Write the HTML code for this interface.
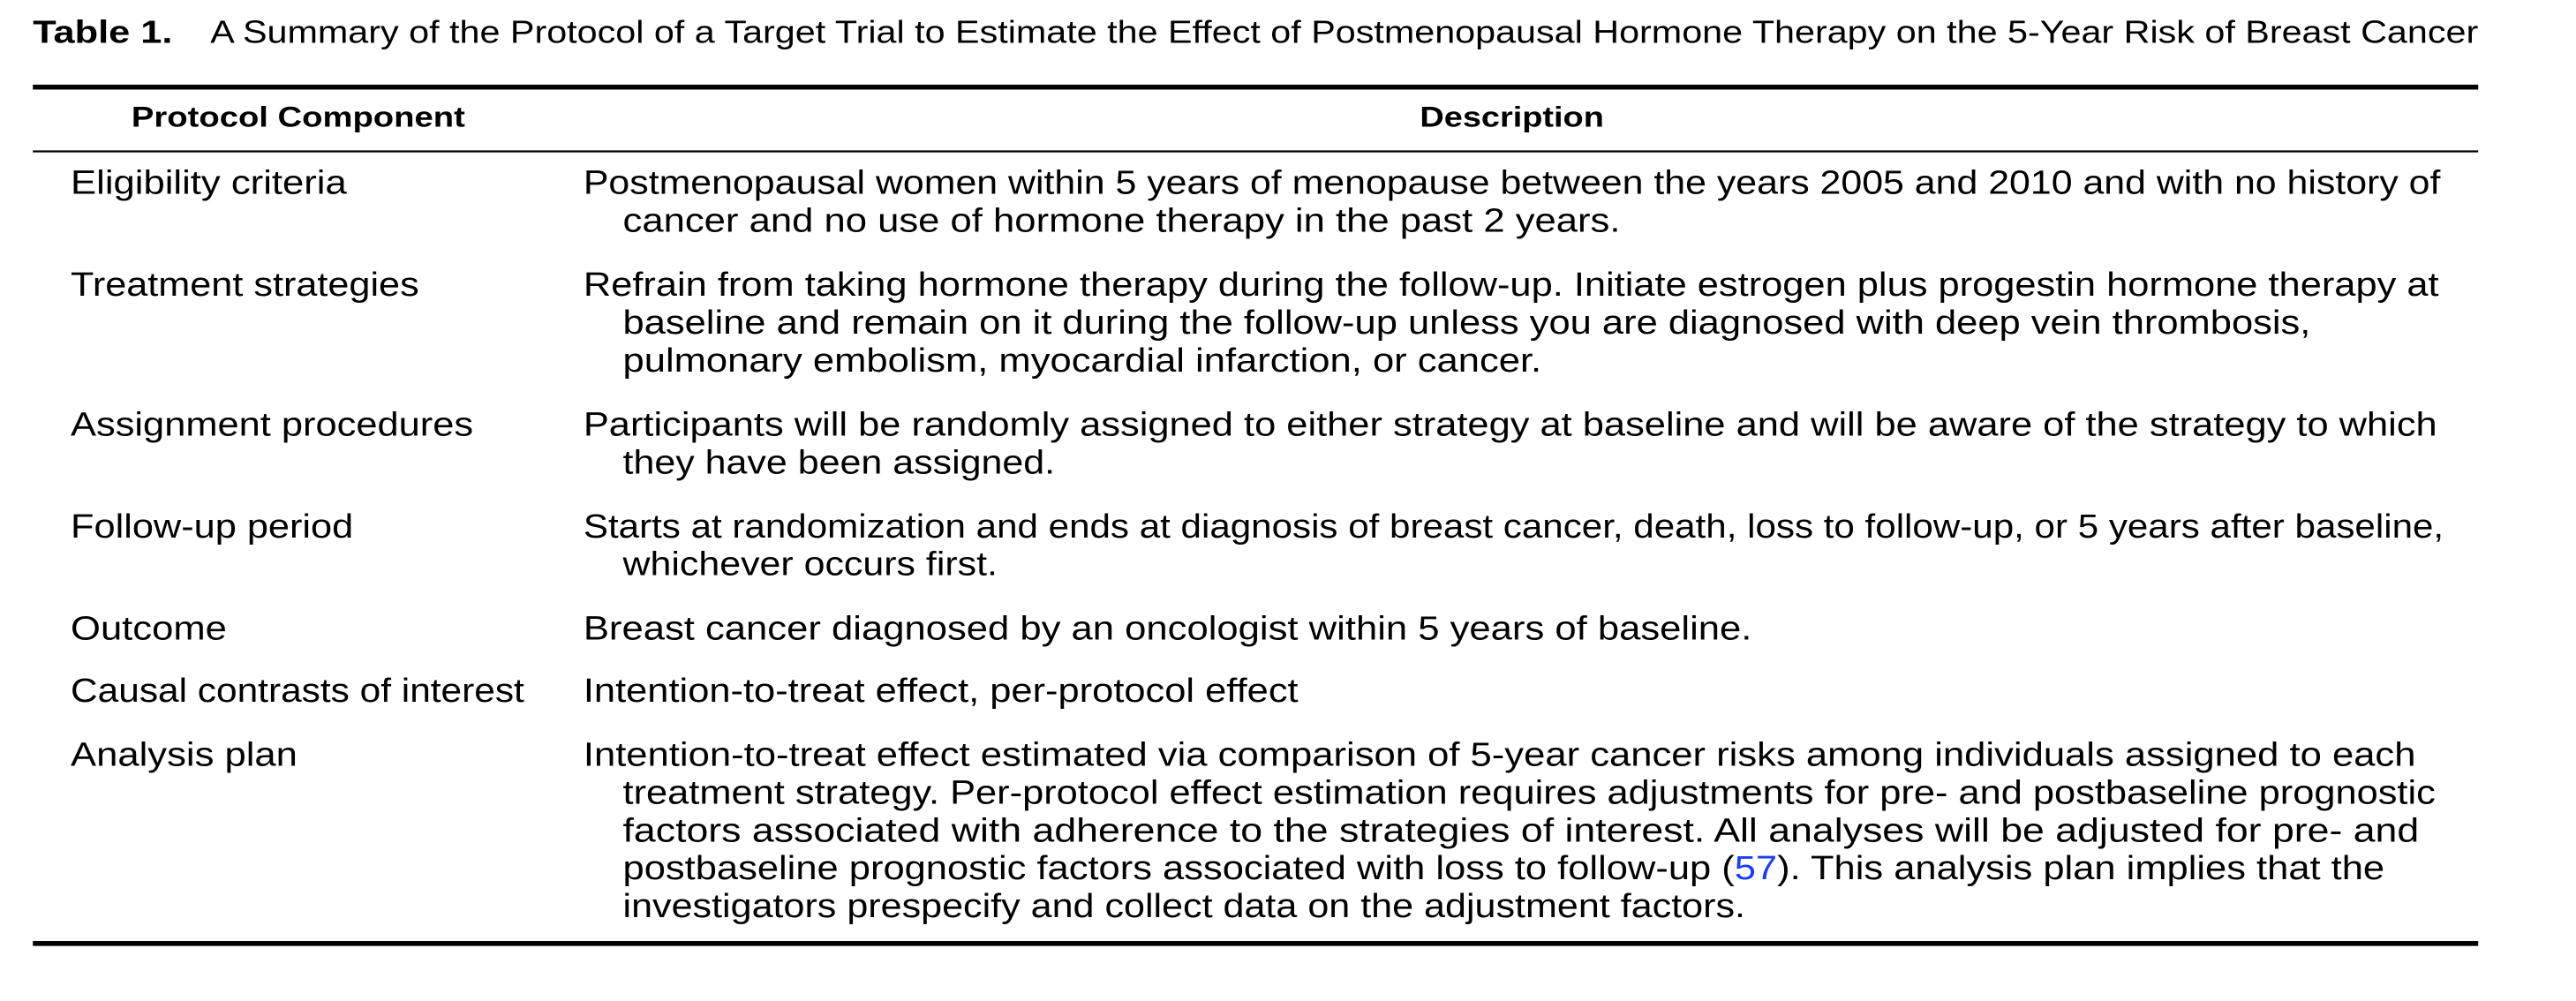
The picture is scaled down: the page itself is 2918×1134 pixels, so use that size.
<!DOCTYPE html>
<html><head><meta charset="utf-8"><style>html,body{margin:0;padding:0;background:#fff}svg{display:block}text{font-family:"Liberation Sans",Arial,sans-serif;fill:#000}</style></head>
<body>
<svg width="2918" height="1134" viewBox="0 0 1567.5 609" preserveAspectRatio="none" xmlns="http://www.w3.org/2000/svg">
<rect width="1568" height="610" fill="#fff"/>
<g>
<text x="20" y="26" font-size="19.5" font-weight="bold" textLength="85" lengthAdjust="spacingAndGlyphs">Table 1.</text>
<text x="128" y="26" font-size="19.5" textLength="1380" lengthAdjust="spacingAndGlyphs">A Summary of the Protocol of a Target Trial to Estimate the Effect of Postmenopausal Hormone Therapy on the 5-Year Risk of Breast Cancer</text>
</g>
<rect x="20" y="51.5" width="1488" height="3" fill="#000"/>
<text x="80" y="77" font-size="17.5" font-weight="bold" textLength="203" lengthAdjust="spacingAndGlyphs">Protocol Component</text>
<text x="864" y="77" font-size="17.5" font-weight="bold" textLength="112" lengthAdjust="spacingAndGlyphs">Description</text>
<rect x="20" y="91.5" width="1488" height="1.2" fill="#000"/>
<g font-size="20.5">
<text x="43" y="118" textLength="168" lengthAdjust="spacingAndGlyphs">Eligibility criteria</text>
<text x="355" y="118" textLength="1130" lengthAdjust="spacingAndGlyphs">Postmenopausal women within 5 years of menopause between the years 2005 and 2010 and with no history of</text>
<text x="379" y="141" textLength="607" lengthAdjust="spacingAndGlyphs">cancer and no use of hormone therapy in the past 2 years.</text>

<text x="43" y="180" textLength="212" lengthAdjust="spacingAndGlyphs">Treatment strategies</text>
<text x="355" y="180" textLength="1129" lengthAdjust="spacingAndGlyphs">Refrain from taking hormone therapy during the follow-up. Initiate estrogen plus progestin hormone therapy at</text>
<text x="379" y="203" textLength="1027" lengthAdjust="spacingAndGlyphs">baseline and remain on it during the follow-up unless you are diagnosed with deep vein thrombosis,</text>
<text x="379" y="226" textLength="559" lengthAdjust="spacingAndGlyphs">pulmonary embolism, myocardial infarction, or cancer.</text>

<text x="43" y="265" textLength="245" lengthAdjust="spacingAndGlyphs">Assignment procedures</text>
<text x="355" y="265" textLength="1128" lengthAdjust="spacingAndGlyphs">Participants will be randomly assigned to either strategy at baseline and will be aware of the strategy to which</text>
<text x="379" y="288" textLength="263" lengthAdjust="spacingAndGlyphs">they have been assigned.</text>

<text x="43" y="327" textLength="172" lengthAdjust="spacingAndGlyphs">Follow-up period</text>
<text x="355" y="327" textLength="1132" lengthAdjust="spacingAndGlyphs">Starts at randomization and ends at diagnosis of breast cancer, death, loss to follow-up, or 5 years after baseline,</text>
<text x="379" y="350" textLength="228" lengthAdjust="spacingAndGlyphs">whichever occurs first.</text>

<text x="43" y="389" textLength="95" lengthAdjust="spacingAndGlyphs">Outcome</text>
<text x="355" y="389" textLength="711" lengthAdjust="spacingAndGlyphs">Breast cancer diagnosed by an oncologist within 5 years of baseline.</text>

<text x="43" y="427" textLength="276" lengthAdjust="spacingAndGlyphs">Causal contrasts of interest</text>
<text x="355" y="427" textLength="435" lengthAdjust="spacingAndGlyphs">Intention-to-treat effect, per-protocol effect</text>

<text x="43" y="466" textLength="138" lengthAdjust="spacingAndGlyphs">Analysis plan</text>
<text x="355" y="466" textLength="1115" lengthAdjust="spacingAndGlyphs">Intention-to-treat effect estimated via comparison of 5-year cancer risks among individuals assigned to each</text>
<text x="379" y="489" textLength="1103" lengthAdjust="spacingAndGlyphs">treatment strategy. Per-protocol effect estimation requires adjustments for pre- and postbaseline prognostic</text>
<text x="379" y="512" textLength="1093" lengthAdjust="spacingAndGlyphs">factors associated with adherence to the strategies of interest. All analyses will be adjusted for pre- and</text>
<text x="379" y="535" textLength="1072" lengthAdjust="spacingAndGlyphs">postbaseline prognostic factors associated with loss to follow-up (<tspan style="fill:#1a3cff">57</tspan>). This analysis plan implies that the</text>
<text x="379" y="558" textLength="683" lengthAdjust="spacingAndGlyphs">investigators prespecify and collect data on the adjustment factors.</text>
</g>
<rect x="20" y="572.5" width="1488" height="3" fill="#000"/>
</svg>
</body></html>
